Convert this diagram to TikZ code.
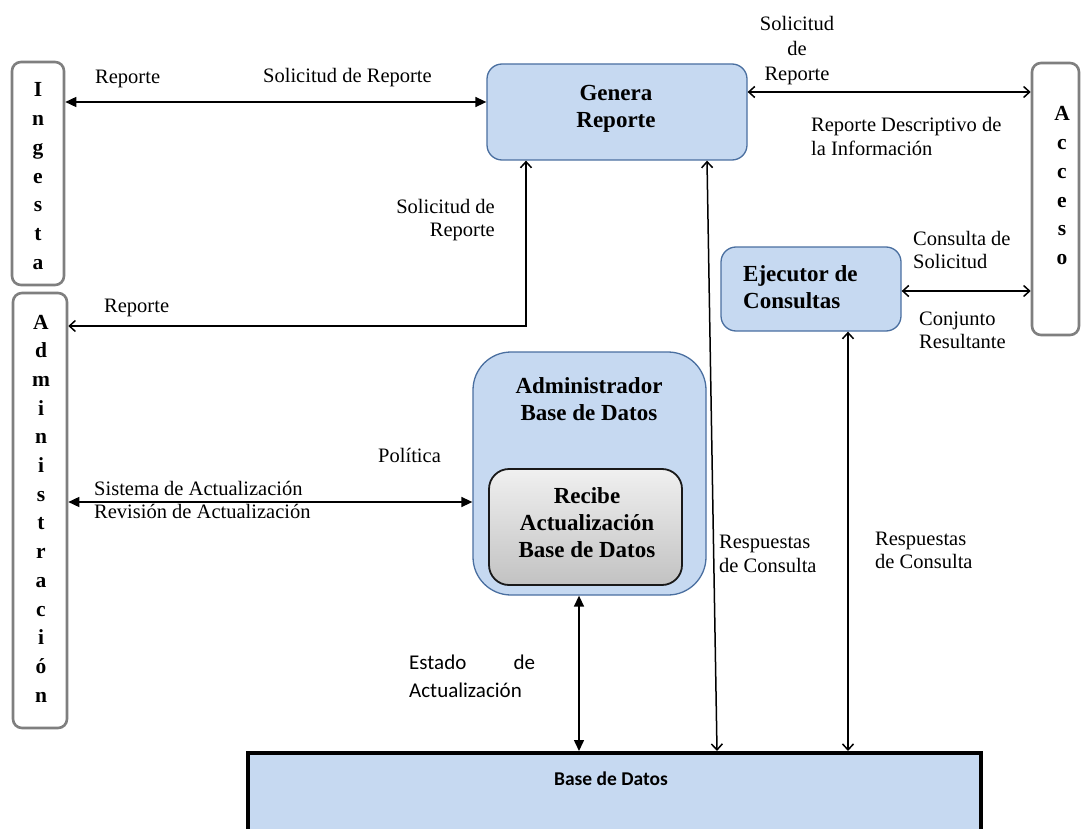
\documentclass[tikz,border=0pt]{standalone}
\usepackage{fontspec}
\setmainfont{Liberation Serif}
\newfontfamily\calib{Carlito}
\usetikzlibrary{arrows.meta}
\definecolor{boxblue}{HTML}{C6D9F1}
\definecolor{edgeblue}{HTML}{4A6FA0}
\definecolor{framegray}{HTML}{7F7F7F}
\definecolor{recitop}{HTML}{F0F0F0}
\definecolor{recibot}{HTML}{C2C2C2}
\begin{document}
\begin{tikzpicture}[x=1pt,y=-1pt,
  actor/.style={draw=framegray,line width=2.6pt,rounded corners=9pt,inner sep=0pt,fill=white},
  proc/.style={draw=edgeblue,line width=1.3pt,fill=boxblue,inner sep=0pt,rounded corners=15pt},
  letters/.style={font=\bfseries\fontsize{21.5}{28.7}\selectfont,align=flush center,text width=30pt,inner sep=0pt,anchor=base},
  lbl/.style={font=\fontsize{20.5}{23.5}\selectfont,inner sep=0pt,anchor=base west,align=flush left,text width=240pt},
  headtext/.style={font=\bfseries\fontsize{23}{27}\selectfont,inner sep=0pt,anchor=base,align=flush center,text width=200pt},
  link/.style={line width=1.5pt},
  tri/.style={link,{Triangle[length=11pt,width=10pt]}-{Triangle[length=11pt,width=10pt]}},
  barb/.style={link,{Straight Barb[length=6pt,width=11pt]}-{Straight Barb[length=6pt,width=11pt]}},
]
\useasboundingbox (0,0) rectangle (1081,829);
\clip (0,0) rectangle (1081,829);

% external actors
\node[actor,minimum width=52pt,minimum height=223pt] (ing) at (38,173.5) {};
\node[actor,minimum width=54pt,minimum height=435pt] (adm) at (40,510.5) {};
\node[actor,minimum width=47pt,minimum height=272pt] (acc) at (1055.5,199) {};
\node[letters] (ingT) at (38,97) {I\\n\\g\\e\\s\\t\\a};
\node[letters] (admT) at (41,329) {A\\d\\m\\i\\n\\i\\s\\t\\r\\a\\c\\i\\ó\\n};
\node[letters] (accT) at (1062,121) {A\\c\\c\\e\\s\\o};

% processes
\node[proc,minimum width=260pt,minimum height=96pt] (gen) at (617,112) {};
\node[headtext] (genT) at (616,101) {Genera\\Reporte};
\node[proc,minimum width=180pt,minimum height=84pt] (eje) at (811,289) {};
\node[headtext,anchor=base west,align=flush left,text width=150pt] (ejeT) at (743,281) {Ejecutor de\\Consultas};
\node[proc,rounded corners=38pt,minimum width=233pt,minimum height=243pt] (bdadm) at (589.5,473.5) {};
\node[headtext] (bdadmT) at (589,393) {Administrador\\Base de Datos};
\node[draw=black!90,line width=1.8pt,rounded corners=20pt,top color=recitop,bottom color=recibot,
      minimum width=193pt,minimum height=116pt,inner sep=0pt] (rec) at (585.5,527) {};
\node[headtext] (recT) at (587,503) {Recibe\\Actualización\\Base de Datos};

% data store
\node[draw=black,line width=3.5pt,fill=boxblue,minimum width=733pt,minimum height=140pt,
      inner sep=0pt,anchor=north west] (db) at (246,751) {};
\node[font=\calib\bfseries\fontsize{19.5}{23}\selectfont,anchor=base,inner sep=0pt] (dbT) at (611,785) {Base de Datos};

% guide coordinates for the flows
\coordinate (yA) at (0,102);
\coordinate (yB) at (0,92);
\coordinate (xC) at (526,0);
\coordinate (yC) at (0,326);
\coordinate (yD) at (0,502);
\coordinate (yE) at (0,291);
\coordinate (xF) at (579,0);
\coordinate (xG) at (707,0);
\coordinate (xH) at (717,0);
\coordinate (xI) at (848,0);

% flows
\draw[tri] (ing.east |- yA) -- (gen.west |- yA);
\draw[barb] (gen.east |- yB) -- (acc.west |- yB);
\draw[barb] (gen.south -| xC) -- (xC |- yC) -- (adm.east |- yC);
\draw[tri] (adm.east |- yD) -- (bdadm.west |- yD);
\draw[barb] (eje.east |- yE) -- (acc.west |- yE);
\draw[tri] (bdadm.south -| xF) -- (db.north -| xF);
\draw[barb] (gen.south -| xG) -- (db.north -| xH);
\draw[barb] (eje.south -| xI) -- (db.north -| xI);

% flow labels
\node[lbl] (l1) at (95,84) {Reporte};
\node[lbl] (l2) at (263,83) {Solicitud de Reporte};
\node[lbl,font=\fontsize{20.5}{24}\selectfont,anchor=base east,align=flush right,text width=130pt] (l3) at (495,213) {Solicitud de\\Reporte};
\node[lbl] (l4) at (104,312) {Reporte};
\node[lbl] (l5) at (378,462) {Política};
\node[lbl] (l6) at (94,495) {Sistema de Actualización\\Revisión de Actualización};
\node[lbl,font=\calib\fontsize{21}{28}\selectfont] (l7) at (409,669) {\makebox[126pt][l]{Estado\hfill de}\\Actualización};
\node[lbl,font=\fontsize{20.5}{25}\selectfont,anchor=base,align=flush center,text width=120pt] (l8) at (797,31) {Solicitud\\de\\Reporte};
\node[lbl] (l9) at (811,132) {Reporte Descriptivo de\\la Información};
\node[lbl] (l10) at (913,245) {Consulta de\\Solicitud};
\node[lbl] (l11) at (919,325) {Conjunto\\Resultante};
\node[lbl,font=\fontsize{20.5}{24}\selectfont] (l12) at (719,548) {Respuestas\\de Consulta};
\node[lbl] (l13) at (875,545) {Respuestas\\de Consulta};
\end{tikzpicture}
\end{document}
